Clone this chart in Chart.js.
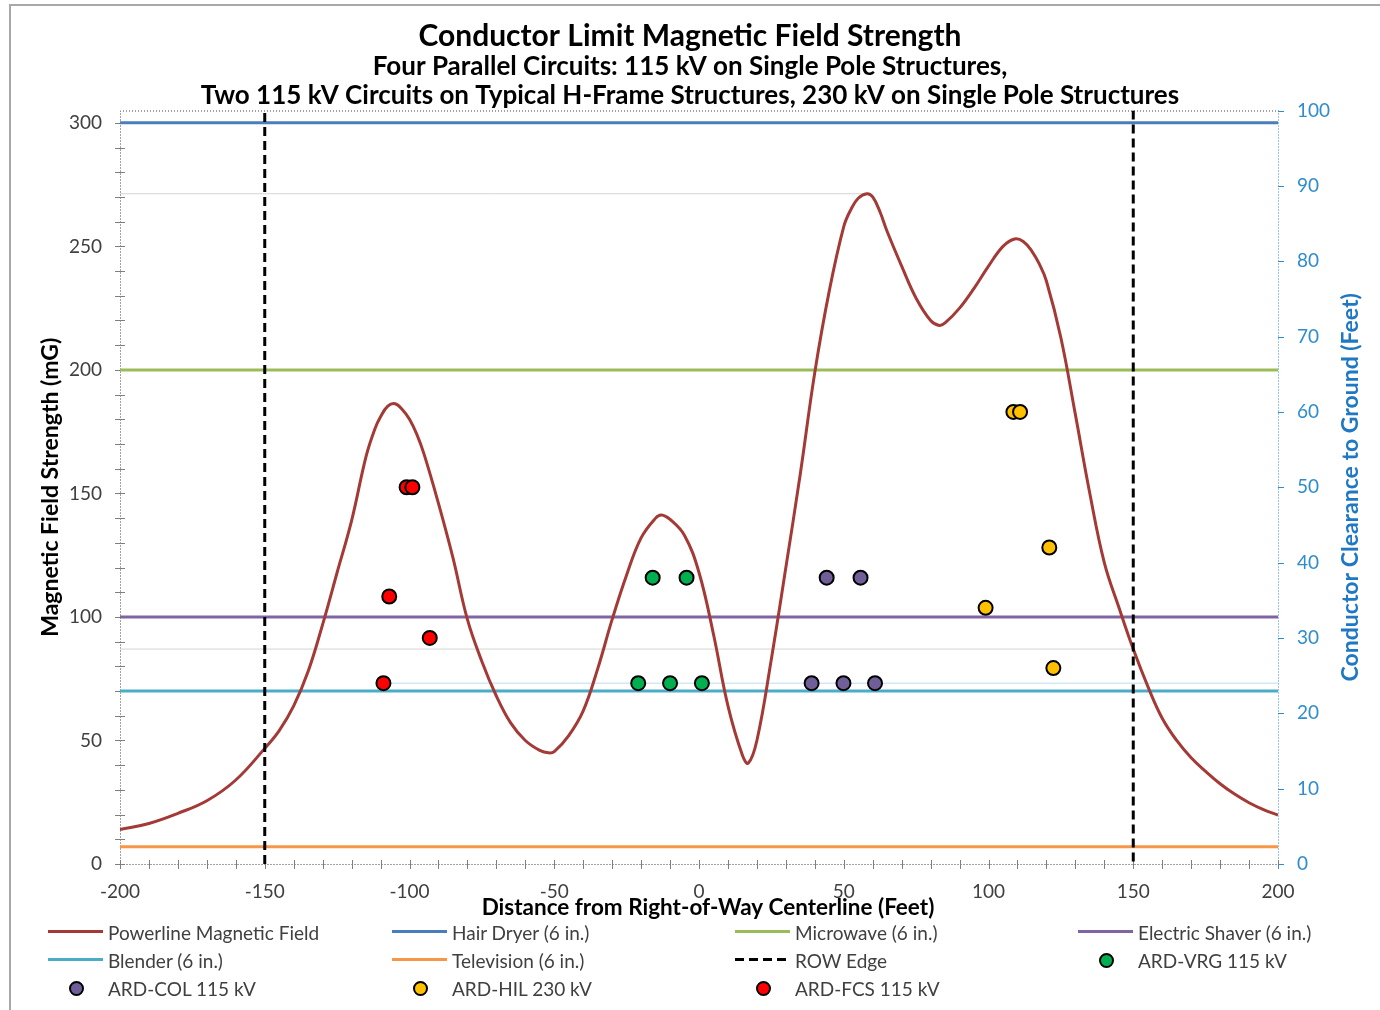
<!DOCTYPE html>
<html>
<head>
<meta charset="utf-8">
<title>Conductor Limit Magnetic Field Strength</title>
<script src="https://cdn.jsdelivr.net/npm/chart.js@4.4.1/dist/chart.umd.min.js"></script>
<style>
  html, body { margin: 0; padding: 0; background: #fff; }
  #wrap { position: relative; width: 1380px; height: 1010px; overflow: hidden; background: #fff; }
  #frame { position: absolute; left: 9px; top: 4px; width: 1400px; height: 1100px;
           border-left: 2px solid #a8a8a8; border-top: 2px solid #a8a8a8; }
  #chart { position: absolute; left: 0; top: 0; }
  #legend { position: absolute; left: 48px; top: 918px; display: grid;
            grid-template-columns: 344px 343px 343px 300px; grid-auto-rows: 28px;
            font-family: Lato, "Open Sans", sans-serif; font-size: 19px; color: #404040; }
  .item { display: flex; align-items: center; white-space: nowrap; }
  .sw { width: 55px; height: 28px; position: relative; flex: none; margin-right: 5px; }
  .sw .ln { position: absolute; left: 0; right: 0; top: 12px; height: 3px; }
  .sw .dot { position: absolute; left: 21px; top: 7px; width: 11px; height: 11px;
             border: 2px solid #000; border-radius: 50%; }
</style>
</head>
<body>
<div id="wrap">
  <div id="frame"></div>
  <canvas id="chart" width="1380" height="1010"></canvas>
  <div id="legend"></div>
</div>
<script>
// Distance from right-of-way centerline (ft) and calculated field (mG)
const distanceFt = [-200, -190, -180, -170, -160, -150, -145, -140, -135, -130, -125, -120, -115, -112,
  -110, -107.5, -105, -102.5, -100, -97.5, -95, -90, -85, -80, -75, -70, -65, -60, -55, -52, -50, -45,
  -40, -35, -30, -25, -20, -15, -13, -10, -5, 0, 5, 10, 15, 17, 20, 25, 30, 35, 40, 45, 50, 52.5,
  55, 58, 60, 62.5, 65, 70, 75, 80, 83, 85, 90, 95, 100, 105, 109, 112, 115, 117.5, 120, 125, 130,
  135, 140, 145, 150, 155, 160, 165, 170, 175, 180, 185, 190, 195, 200];
const fieldMG = [14.0, 16.4, 20.5, 25.6, 34.0, 46.8, 54, 64, 78, 97, 118, 139, 165, 176,
  181, 185.3, 186.3, 184, 180, 174, 166, 146, 124, 99, 82, 68, 57, 50, 46, 45, 45.5, 52,
  62, 79, 99, 117, 132, 140, 141.3, 139.5, 133, 118, 93, 64, 44, 40.8, 50, 83, 120, 158, 199, 232, 258, 265,
  269.5, 271.3, 270, 264, 256, 242, 229, 220, 218, 219, 225, 233, 242, 250, 253, 252, 248, 243, 236, 213, 182,
  150, 122, 104, 87, 72, 59, 50, 43, 37.5, 32.5, 28.3, 24.8, 22, 19.8];

// Appliance field levels at 6 inches (mG)
const hairDryerMG = 300;
const microwaveMG = 200;
const shaverMG = 100;
const blenderMG = 70;
const televisionMG = 7;

// Right-of-way edges (ft)
const rowEdgeFt = [-150, 150];

// Axis tick labels
const xTicks = [-200, -150, -100, -50, 0, 50, 100, 150, 200];
const yTicks = [0, 50, 100, 150, 200, 250, 300];
const y2Ticks = [0, 10, 20, 30, 40, 50, 60, 70, 80, 90, 100];

// Measured conductor clearance to ground (ft) by line segment
const vrgDistFt = [-21, -10, 1, -16, -4.3];
const vrgClearFt = [24, 24, 24, 38, 38];
const colDistFt = [38.9, 49.9, 60.8, 44.1, 55.8];
const colClearFt = [24, 24, 24, 38, 38];
const hilDistFt = [108.6, 110.9, 121, 99, 122.4];
const hilClearFt = [60, 60, 42, 34, 26];
const fcsDistFt = [-101, -99, -107, -93, -109];
const fcsClearFt = [50, 50, 35.5, 30, 24];

// Lowest measured clearance guide
const minClearFt = 24;
const minClearFromFt = -107;

const X_MIN = -200, X_MAX = 200, Y_MAX = 305, Y2_MAX = 100;
const FONT = 'Lato, "Open Sans", sans-serif';
const BLUE_AXIS = '#2F8CCD';

const toXY = (xs, ys) => xs.map((x, i) => ({ x, y: ys[i] }));
const hLine = v => [{ x: X_MIN, y: v }, { x: X_MAX, y: v }];
const fixedTicks = list => s => { s.ticks = list.map(v => ({ value: v })); };

const peakIdx = fieldMG.indexOf(Math.max(...fieldMG));
const edgeIdx = distanceFt.indexOf(rowEdgeFt[1]);

const lineBase = { showLine: true, pointRadius: 0, pointHoverRadius: 0, borderWidth: 3, fill: false };
const dotBase = { showLine: false, pointRadius: 7, pointBorderWidth: 2, borderColor: '#000',
  pointBorderColor: '#000', yAxisID: 'y2', order: -2 };

const datasets = [
  { ...lineBase, label: 'Powerline Magnetic Field', data: toXY(distanceFt, fieldMG),
    borderColor: '#A33A36', tension: 0.4, order: 0 },
  { ...lineBase, label: 'Hair Dryer (6 in.)', data: hLine(hairDryerMG), borderColor: '#4A7EBB' },
  { ...lineBase, label: 'Microwave (6 in.)', data: hLine(microwaveMG), borderColor: '#9BBB59' },
  { ...lineBase, label: 'Electric Shaver (6 in.)', data: hLine(shaverMG), borderColor: '#8064A2' },
  { ...lineBase, label: 'Blender (6 in.)', data: hLine(blenderMG), borderColor: '#4BACC6' },
  { ...lineBase, label: 'Television (6 in.)', data: hLine(televisionMG), borderColor: '#F79646' },
  { ...lineBase, label: 'ROW Edge', borderColor: '#000', borderDash: [9, 5], spanGaps: false, order: -1,
    data: [{ x: rowEdgeFt[0], y: 0 }, { x: rowEdgeFt[0], y: Y_MAX }, { x: 0, y: null },
           { x: rowEdgeFt[1], y: Y_MAX }, { x: rowEdgeFt[1], y: 0 }] },
  { ...dotBase, label: 'ARD-VRG 115 kV', data: toXY(vrgDistFt, vrgClearFt), backgroundColor: '#00B050' },
  { ...dotBase, label: 'ARD-COL 115 kV', data: toXY(colDistFt, colClearFt), backgroundColor: '#705E98' },
  { ...dotBase, label: 'ARD-HIL 230 kV', data: toXY(hilDistFt, hilClearFt), backgroundColor: '#FFC000' },
  { ...dotBase, label: 'ARD-FCS 115 kV', data: toXY(fcsDistFt, fcsClearFt), backgroundColor: '#FF0000' },
  // faint guide lines (not in legend): field peak, field at ROW edge, lowest clearance
  { ...lineBase, guide: true, borderWidth: 1, borderColor: '#d4d4d4', order: 1,
    data: [{ x: X_MIN, y: fieldMG[peakIdx] }, { x: distanceFt[peakIdx], y: fieldMG[peakIdx] }] },
  { ...lineBase, guide: true, borderWidth: 1, borderColor: '#d4d4d4', order: 1,
    data: [{ x: X_MIN, y: fieldMG[edgeIdx] }, { x: rowEdgeFt[1], y: fieldMG[edgeIdx] }] },
  { ...lineBase, guide: true, borderWidth: 1, borderColor: '#bcdcf0', order: 1, yAxisID: 'y2',
    data: [{ x: minClearFromFt, y: minClearFt }, { x: X_MAX, y: minClearFt }] }
];

// Dotted plot frame, axis tick marks, x-axis title and the right-hand axis title
const frameDecor = {
  id: 'frameDecor',
  beforeDatasetsDraw(chart) {
    const { ctx, chartArea: a, scales } = chart;
    ctx.save();
    ctx.lineWidth = 1;
    ctx.setLineDash([1, 2]);
    ctx.strokeStyle = '#444';
    ctx.beginPath();
    ctx.moveTo(a.left + 0.5, a.bottom + 0.5); ctx.lineTo(a.left + 0.5, a.top + 0.5);
    ctx.lineTo(a.right + 0.5, a.top + 0.5);
    ctx.moveTo(a.left + 0.5, a.bottom + 0.5); ctx.lineTo(a.right + 0.5, a.bottom + 0.5);
    ctx.stroke();
    ctx.strokeStyle = BLUE_AXIS;
    ctx.beginPath();
    ctx.moveTo(a.right + 0.5, a.top); ctx.lineTo(a.right + 0.5, a.bottom);
    ctx.stroke();
    ctx.setLineDash([]);
    // left axis ticks
    ctx.strokeStyle = '#7f7f7f';
    ctx.beginPath();
    for (let v = 0; v <= 300; v += 10) {
      const y = Math.round(scales.y.getPixelForValue(v)) + 0.5;
      ctx.moveTo(a.left - 5, y); ctx.lineTo(a.left + 5, y);
    }
    // bottom axis ticks
    for (let v = X_MIN; v <= X_MAX; v += 10) {
      const x = Math.round(scales.x.getPixelForValue(v)) + 0.5;
      ctx.moveTo(x, a.bottom - 4); ctx.lineTo(x, a.bottom + 5);
    }
    ctx.stroke();
    // right axis ticks
    ctx.strokeStyle = BLUE_AXIS;
    ctx.beginPath();
    for (let v = 0; v <= Y2_MAX; v += 10) {
      const y = Math.round(scales.y2.getPixelForValue(v)) + 0.5;
      ctx.moveTo(a.right, y); ctx.lineTo(a.right + 6, y);
    }
    ctx.stroke();
    ctx.restore();
  },
  afterDraw(chart) {
    const { ctx, chartArea: a } = chart;
    ctx.save();
    ctx.textAlign = 'center';
    ctx.textBaseline = 'middle';
    ctx.font = 'bold 22.5px ' + FONT;
    ctx.fillStyle = '#000';
    ctx.fillText('Distance from Right-of-Way Centerline (Feet)', (a.left + a.right) / 2 + 9, a.bottom + 44);
    ctx.translate(1351, (a.top + a.bottom) / 2);
    ctx.rotate(-Math.PI / 2);
    ctx.font = 'bold 23px ' + FONT;
    ctx.fillStyle = '#1F78C4';
    ctx.fillText('Conductor Clearance to Ground (Feet)', 0, 0);
    ctx.restore();
  }
};

const chart = new Chart(document.getElementById('chart'), {
  type: 'scatter',
  data: { datasets },
  plugins: [frameDecor],
  options: {
    responsive: false,
    animation: false,
    events: [],
    layout: { padding: { top: 0, left: 0, right: 0, bottom: 88 } },
    plugins: {
      legend: { display: false },
      tooltip: { enabled: false },
      title: {
        display: true, text: 'Conductor Limit Magnetic Field Strength', color: '#000',
        font: { family: FONT, size: 30, weight: 'bold', lineHeight: 1.1 }, padding: { top: 19.5, bottom: 0 }
      },
      subtitle: {
        display: true,
        text: ['Four Parallel Circuits: 115 kV on Single Pole Structures,',
               'Two 115 kV Circuits on Typical H-Frame Structures, 230 kV on Single Pole Structures'],
        color: '#000', font: { family: FONT, size: 26, weight: 'bold', lineHeight: 29 / 26 },
        padding: { top: 0, bottom: 0 }
      }
    },
    scales: {
      x: {
        type: 'linear', min: X_MIN, max: X_MAX, position: 'bottom',
        grid: { display: false, drawTicks: false }, border: { display: false },
        afterBuildTicks: fixedTicks(xTicks),
        ticks: { color: '#404040', font: { family: FONT, size: 19 }, padding: 16,
                 maxRotation: 0, autoSkip: false },
        afterFit: s => { s.height = 58; }
      },
      y: {
        type: 'linear', min: 0, max: Y_MAX, position: 'left',
        grid: { display: false, drawTicks: false }, border: { display: false },
        afterBuildTicks: fixedTicks(yTicks),
        ticks: { color: '#404040', font: { family: FONT, size: 19 }, padding: 18, autoSkip: false },
        title: { display: true, text: 'Magnetic Field Strength (mG)', color: '#000',
                 font: { family: FONT, size: 23, weight: 'bold' }, padding: { top: 37, bottom: 0 } },
        afterFit: s => { s.width = 120; }
      },
      y2: {
        type: 'linear', min: 0, max: Y2_MAX, position: 'right',
        grid: { display: false, drawTicks: false }, border: { display: false },
        afterBuildTicks: fixedTicks(y2Ticks),
        ticks: { color: BLUE_AXIS, font: { family: FONT, size: 19 }, padding: 19, autoSkip: false },
        afterFit: s => { s.width = 102; }
      }
    }
  }
});

// Legend laid out in four columns, in dataset order
const legendEl = document.getElementById('legend');
chart.data.datasets.filter(d => !d.guide).forEach(d => {
  const item = document.createElement('div');
  item.className = 'item';
  const sw = document.createElement('div');
  sw.className = 'sw';
  const mark = document.createElement('div');
  if (d.showLine) {
    mark.className = 'ln';
    mark.style.background = d.borderDash
      ? 'repeating-linear-gradient(90deg,' + d.borderColor + ' 0 9px, transparent 9px 14px)'
      : d.borderColor;
  } else {
    mark.className = 'dot';
    mark.style.background = d.backgroundColor;
  }
  sw.appendChild(mark);
  const txt = document.createElement('span');
  txt.textContent = d.label;
  item.appendChild(sw);
  item.appendChild(txt);
  legendEl.appendChild(item);
});
</script>
</body>
</html>
